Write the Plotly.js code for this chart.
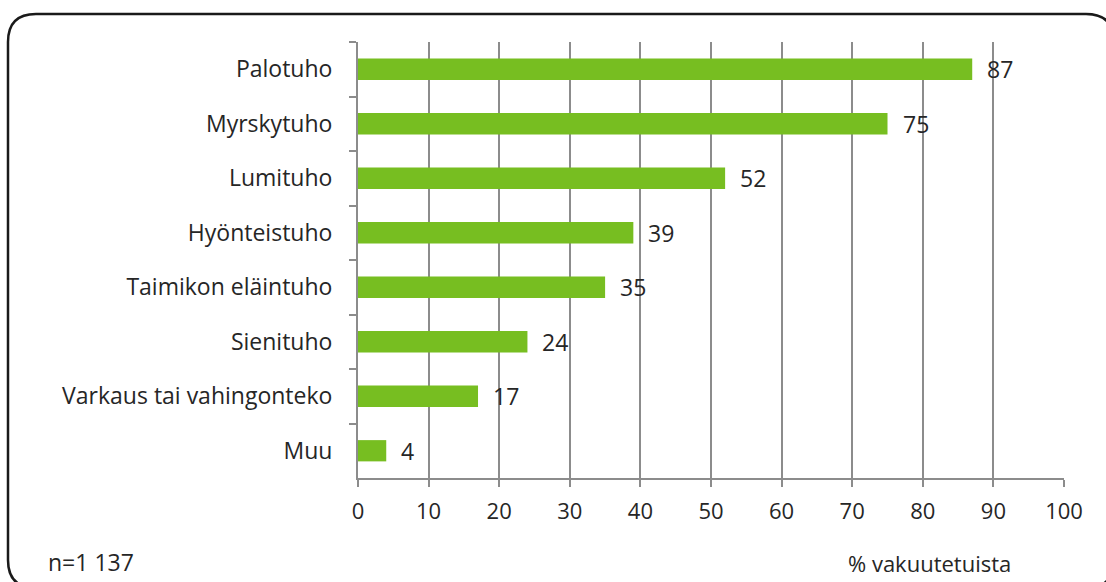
<!DOCTYPE html>
<html>
<head>
<meta charset="utf-8">
<script src="https://cdn.plot.ly/plotly-3.0.1.min.js"></script>
<style>
html,body{margin:0;padding:0;background:#fff;}
#chart{width:1106px;height:582px;}
</style>
</head>
<body>
<div id="chart"></div>
<script>
const categories = ["Palotuho","Myrskytuho","Lumituho","Hyönteistuho","Taimikon eläintuho","Sienituho","Varkaus tai vahingonteko","Muu"];
const values = [87,75,52,39,35,24,17,4];
const tickValues = [0,10,20,30,40,50,60,70,80,90,100];
const noteText = "n=1 137";
const axisTitle = "% vakuutetuista";

const W = 1106, H = 582;
const L = 358, R = 42, T = 42, B = 104;
const pw = W - L - R, ph = H - T - B;
const px = x => (x - L) / pw;
const py = y => (H - B - y) / ph;

const font = "'Open Sans', Lato, sans-serif";
const txt = "#262626";

// rounded border box
const x0 = 8, x1 = 1114, y0 = 14, y1 = 588, r = 28;
const path = [
  `M ${px(x0+r)} ${py(y0)}`,
  `L ${px(x1-r)} ${py(y0)}`,
  `Q ${px(x1)} ${py(y0)} ${px(x1)} ${py(y0+r)}`,
  `L ${px(x1)} ${py(y1-r)}`,
  `Q ${px(x1)} ${py(y1)} ${px(x1-r)} ${py(y1)}`,
  `L ${px(x0+r)} ${py(y1)}`,
  `Q ${px(x0)} ${py(y1)} ${px(x0)} ${py(y1-r)}`,
  `L ${px(x0)} ${py(y0+r)}`,
  `Q ${px(x0)} ${py(y0)} ${px(x0+r)} ${py(y0)} Z`
].join(" ");

const trace = {
  type: "bar",
  orientation: "h",
  x: values,
  y: categories,
  marker: {color: "#77be21"},
  hoverinfo: "skip"
};

const annotations = values.map((v, i) => ({
  x: v, y: categories[i], xref: "x", yref: "y",
  text: String(v), showarrow: false, xanchor: "left", xshift: 13,
  font: {family: font, size: 23, color: txt}
}));
annotations.push({
  x: px(46), y: py(562), xref: "paper", yref: "paper", xanchor: "left", yanchor: "middle",
  text: noteText, showarrow: false, font: {family: font, size: 23, color: txt}
});
annotations.push({
  x: px(846), y: py(563), xref: "paper", yref: "paper", xanchor: "left", yanchor: "middle",
  text: axisTitle, showarrow: false, font: {family: font, size: 22, color: txt}
});

const layout = {
  width: W, height: H,
  margin: {l: L, r: R, t: T, b: B, pad: 0},
  paper_bgcolor: "#fff", plot_bgcolor: "#fff",
  bargap: 0.61,
  showlegend: false,
  font: {family: font, size: 22, color: txt},
  xaxis: {
    range: [0, 100], tickvals: tickValues, ticktext: tickValues.map(String),
    showgrid: true, gridcolor: "#8c8c8c", gridwidth: 2,
    ticks: "outside", ticklen: 7, tickwidth: 2, tickcolor: "#8c8c8c",
    showline: true, linecolor: "#8c8c8c", linewidth: 2,
    zeroline: false, fixedrange: true,
    ticklabelstandoff: 6,
    tickfont: {family: font, size: 22, color: txt}
  },
  yaxis: {
    type: "category", autorange: "reversed",
    tickson: "boundaries", ticks: "outside", ticklen: 7, tickwidth: 2, tickcolor: "#8c8c8c",
    showline: true, linecolor: "#8c8c8c", linewidth: 2,
    showgrid: false, zeroline: false, fixedrange: true,
    ticklabelstandoff: 19,
    tickfont: {family: font, size: 23, color: txt}
  },
  annotations: annotations,
  shapes: [{
    type: "path", path: path, xref: "paper", yref: "paper",
    line: {color: "#1a1a1a", width: 2.5}, fillcolor: "rgba(0,0,0,0)", layer: "above"
  }]
};

Plotly.newPlot("chart", [trace], layout, {displayModeBar: false, staticPlot: true});
</script>
</body>
</html>
